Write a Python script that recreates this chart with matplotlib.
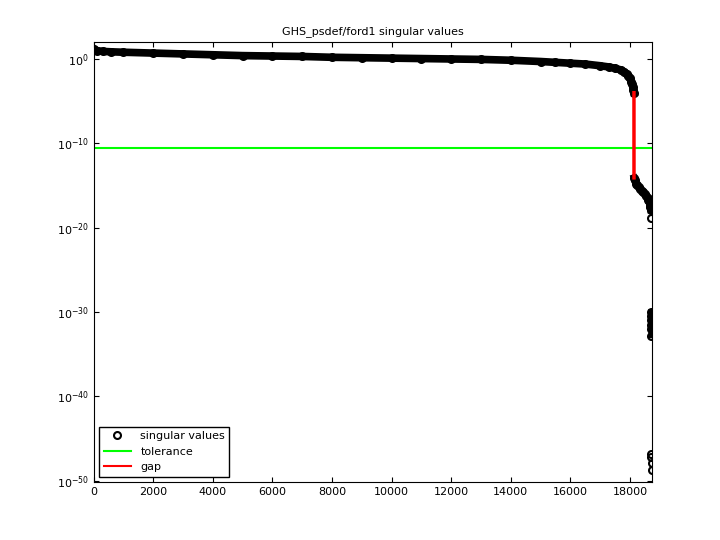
import matplotlib
matplotlib.use("Agg")
import matplotlib.pyplot as plt
from matplotlib.lines import Line2D

title = "GHS_psdef/ford1 singular values"
idx = [1, 100, 300, 600, 1000, 2000, 3000, 4000, 5000, 6000, 7000, 8000, 9000, 10000,
       11000, 12000, 13000, 14000, 15000, 15500, 16000, 16500, 17000, 17300, 17500,
       17700, 17800, 17900, 17950, 18000, 18050, 18080, 18100, 18120, 18136]
sv = [10**1.2, 10**1.0, 10**0.9, 10**0.85, 10**0.8, 10**0.7, 10**0.6, 10**0.5, 10**0.4,
      10**0.35, 10**0.3, 10**0.2, 10**0.15, 10**0.1, 10**0.05, 10**0.0, 10**-0.05,
      10**-0.15, 10**-0.3, 10**-0.4, 10**-0.5, 10**-0.6, 10**-0.8, 10**-0.95, 10**-1.1,
      10**-1.3, 10**-1.5, 10**-1.8, 10**-2.0, 10**-2.3, 10**-2.7, 10**-3.0, 10**-3.3,
      10**-3.7, 10**-4.0]
idx2 = [18137, 18160, 18200, 18250, 18300, 18350, 18400, 18450, 18500, 18550, 18600,
        18620, 18640, 18660, 18680, 18690, 18700]
sv2 = [10**-14.1, 10**-14.4, 10**-14.8, 10**-15.0, 10**-15.2, 10**-15.4, 10**-15.6,
       10**-15.8, 10**-16.0, 10**-16.2, 10**-16.5, 10**-16.7, 10**-16.9, 10**-17.1,
       10**-17.4, 10**-17.6, 10**-17.9]
idx3 = [18705, 18708, 18710, 18712, 18714, 18716, 18718]
sv3 = [10**-18.9, 10**-30.0, 10**-30.5, 10**-31.0, 10**-31.5, 10**-32.0, 10**-32.8]
idx4 = [18722, 18724, 18726, 18728]
sv4 = [10**-46.8, 10**-47.2, 10**-47.9, 10**-48.8]
tol = 10**-10.5
gap_x = [18136, 18137]
gap_y = [10**-4.0, 10**-14.1]

fig = plt.figure(figsize=(7.2, 5.4), dpi=100)
ax = fig.add_axes([0.13, 0.107, 0.775, 0.815])
ax.set_yscale("log")
black = dict(color="black", marker="o", mfc="none", mew=1.5, ms=5)
ax.plot(idx, sv, lw=5.5, **black)
ax.plot(idx2, sv2, lw=5, **black)
ax.plot(idx3[:1], sv3[:1], ls="none", **black)
ax.plot(idx3[1:], sv3[1:], lw=4, **black)
ax.plot(idx4, sv4, ls="none", **black)
ax.axhline(tol, color="#00ff00", lw=1.5)
ax.plot(gap_x, gap_y, color="red", lw=2.5)
ax.set_xlim(0, 18728)
ax.set_ylim(10**-50.2, 10**2)
ax.set_xticks(range(0, 18001, 2000))
ax.set_yticks([10.0**e for e in range(-50, 1, 10)])
ax.minorticks_off()
ax.tick_params(direction="in", top=True, right=True, labelsize=8)
ax.set_title(title, fontsize=8)
handles = [Line2D([], [], color="black", marker="o", mfc="none", mew=1.5, ms=5, ls="none"),
           Line2D([], [], color="#00ff00", lw=1.5), Line2D([], [], color="red", lw=1.5)]
ax.legend(handles, ["singular values", "tolerance", "gap"], loc="lower left", fontsize=8,
          fancybox=False, edgecolor="black", framealpha=1, handlelength=2.5)
fig.savefig("out.png")
